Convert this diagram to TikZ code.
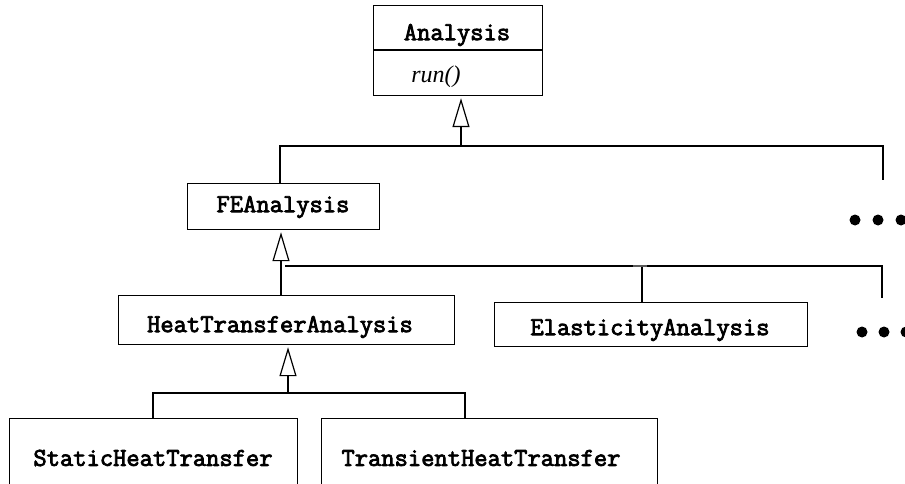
\documentclass[tikz,border=0pt]{standalone}
\usepackage{fontspec}
\setmainfont{Liberation Serif}
\newfontfamily\classfont[FakeBold=3]{Latin Modern Mono}
\usetikzlibrary{arrows.meta}
\tikzset{
  box/.style={draw, line width=1.2pt, rectangle, inner sep=0pt, anchor=north west},
  cls/.style={font=\fontsize{25.8}{30}\selectfont\classfont, inner sep=0pt, anchor=center},
  op/.style={font=\fontsize{24}{28}\selectfont\itshape, inner sep=0pt, anchor=center},
  link/.style={line width=1.2pt},
  inherit/.style={line width=1.2pt, -{Triangle[open, length=29pt, width=17pt, line width=1.2pt]}, shorten >=2pt},
  dot/.style={circle, fill=black, inner sep=0pt, minimum size=11pt}
}
\begin{document}
\begin{tikzpicture}[x=1pt, y=-1pt]
\useasboundingbox (0,0) rectangle (905,484);

% class boxes
\node[box, minimum width=169pt, minimum height=90pt] (analysis) at (373,5) {};
\draw[link] (373,50) -- (542,50);
\node[cls] (analysisName) at (457,35) {Analysis};
\node[op] (runOp) at (436,77) {run()};

\node[box, minimum width=192pt, minimum height=46pt] (fe) at (187,183) {};
\node[cls] (feName) at (283,207) {FEAnalysis};

\node[box, minimum width=336pt, minimum height=49pt] (heat) at (118,295) {};
\node[cls] (heatName) at (280,327) {HeatTransferAnalysis};

\node[box, minimum width=313pt, minimum height=44pt] (elastic) at (494,302) {};
\node[cls] (elasticName) at (650,330) {ElasticityAnalysis};

\node[box, minimum width=288pt, minimum height=90pt] (static) at (9,418) {};
\node[cls] (staticName) at (153,458) {StaticHeatTransfer};

\node[box, minimum width=336pt, minimum height=90pt] (transient) at (321,418) {};
\node[cls] (transientName) at (481,458) {TransientHeatTransfer};

% junction points of the inheritance trees
\coordinate (barA) at (461,146);
\coordinate (barAleft) at (280,146);
\coordinate (barAright) at (883,146);
\coordinate (moreA) at (883,180);

\coordinate (barB) at (281,267);
\coordinate (barBstart) at (285,266);
\coordinate (barBmid) at (642,266);
\coordinate (barBright) at (882,266);
\coordinate (moreB) at (882,298);

\coordinate (barC) at (288,393);
\coordinate (barCleft) at (153,393);
\coordinate (barCright) at (465,393);

% Analysis hierarchy
\draw[inherit] (barA) -- (barA |- analysis.south);
\draw[link] (fe.north -| barAleft) -- (barAleft) -- (barAright) -- (moreA);

% FEAnalysis hierarchy
\draw[inherit] (heat.north -| barB) -- (barB |- fe.south);
\draw[link] (barBstart) -- (barBright) -- (moreB);
\draw[link] (barBmid) -- (elastic.north -| barBmid);
\draw[line width=2pt, black!65] (633,266) -- (647,266);

% HeatTransferAnalysis hierarchy
\draw[inherit] (barC) -- (barC |- heat.south);
\draw[link] (static.north -| barCleft) -- (barCleft) -- (barCright) -- (transient.north -| barCright);

% further subclasses
\node[dot] (a1) at (855,220) {};
\node[dot] (a2) at (878,220) {};
\node[dot] (a3) at (901,220) {};
\node[dot] (b1) at (862,332) {};
\node[dot] (b2) at (884,332) {};
\node[dot] (b3) at (906,332) {};
\end{tikzpicture}
\end{document}
